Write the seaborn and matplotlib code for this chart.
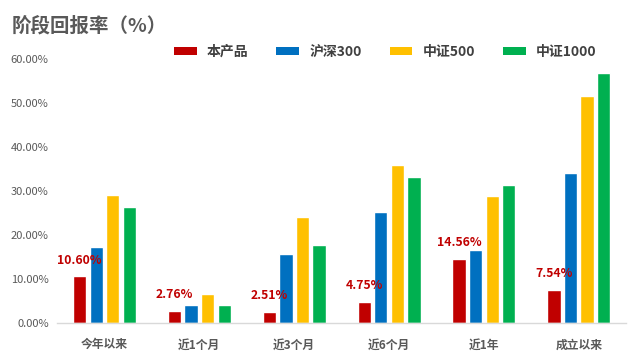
import matplotlib
matplotlib.use("Agg")
import matplotlib.pyplot as plt
import seaborn as sns
import pandas as pd
from matplotlib.patches import Patch
from matplotlib.ticker import FuncFormatter

categories = ["今年以来", "近1个月", "近3个月", "近6个月", "近1年", "成立以来"]
series_names = ["本产品", "沪深300", "中证500", "中证1000"]
product = [10.60, 2.76, 2.51, 4.75, 14.56, 7.54]
hs300 = [17.2, 4.0, 15.6, 25.2, 16.5, 34.0]
zz500 = [29.0, 6.5, 24.0, 35.9, 28.8, 51.5]
zz1000 = [26.3, 4.0, 17.7, 33.1, 31.3, 56.8]
colors = ["#C00000", "#0070C0", "#FFC000", "#00B050"]

sns.set_theme(style="white")
plt.rcParams['font.family'] = ['Noto Sans CJK SC', 'DejaVu Sans']

rows = []
for name, vals in zip(series_names, [product, hs300, zz500, zz1000]):
    for c, v in zip(categories, vals):
        rows.append({"cat": c, "series": name, "value": v})
df = pd.DataFrame(rows)

fig = plt.figure(figsize=(6.41, 3.61), dpi=100)
ax = fig.add_axes([0.089, 0.105, 0.888, 0.732])
sns.barplot(data=df, x="cat", y="value", hue="series", order=categories,
            hue_order=series_names, palette=colors, width=0.7, gap=0.2,
            ax=ax, legend=False, saturation=1)

ax.set_ylim(0, 60)
ax.set_yticks(range(0, 61, 10))
ax.yaxis.set_major_formatter(FuncFormatter(lambda v, p: f"{v:.2f}%"))
ax.set_xlabel("")
ax.set_ylabel("")
for s in ["top", "right", "left"]:
    ax.spines[s].set_visible(False)
ax.spines["bottom"].set_color("#D9D9D9")
ax.spines["bottom"].set_linewidth(1.0)
ax.tick_params(axis="y", length=0, labelsize=8, labelcolor="#595959", pad=6)
ax.tick_params(axis="x", length=0, labelsize=8.5, labelcolor="#595959", pad=11)
for t in ax.get_xticklabels():
    t.set_fontweight("bold")

ax.bar_label(ax.containers[0], labels=[f"{v:.2f}%" for v in product],
             padding=7, color="#C00000", fontsize=8.8, fontweight="bold")

handles = [Patch(facecolor=c, edgecolor="none") for c in colors]
fig.legend(handles, series_names, loc="center", bbox_to_anchor=(0.601, 0.856),
           ncol=4, frameon=False, handlelength=1.65, handleheight=0.5,
           columnspacing=2.0, handletextpad=0.72,
           prop={"weight": "bold", "size": 10})
for t in fig.legends[0].get_texts():
    t.set_color("#404040")

fig.text(0.018, 0.928, "阶段回报率（%）", fontsize=14, fontweight="bold",
         color="#595959", va="center", ha="left")

fig.savefig("out.png", dpi=100)
